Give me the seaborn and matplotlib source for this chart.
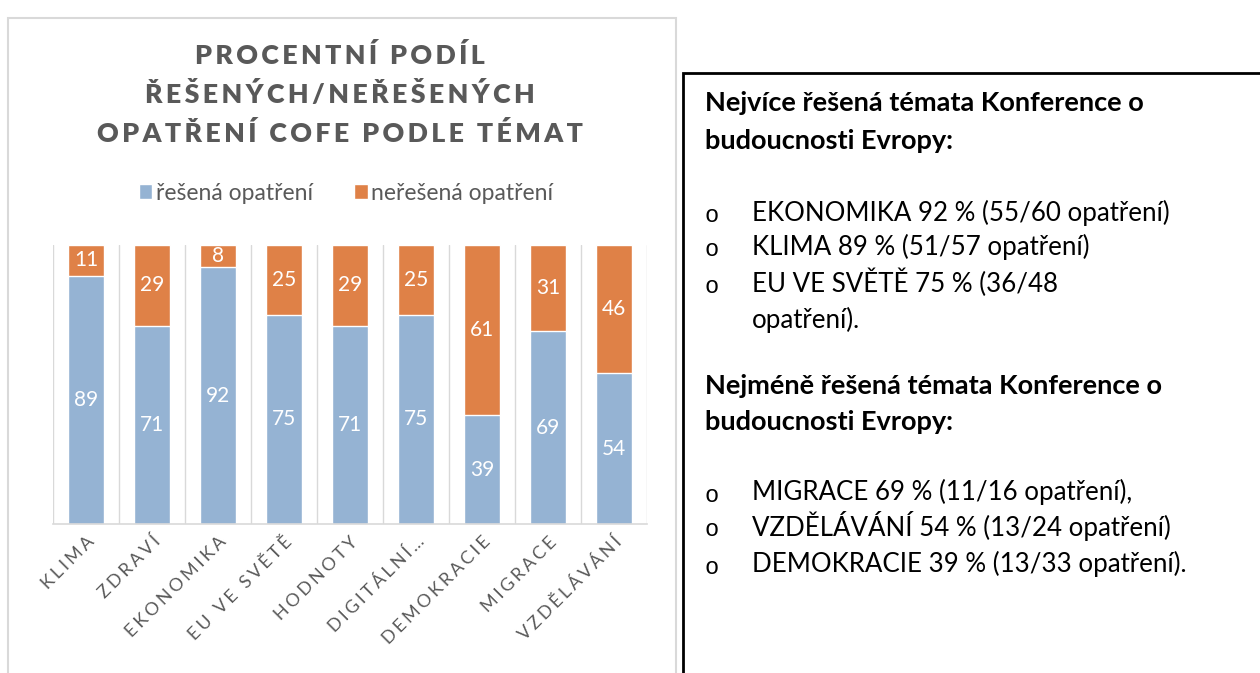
import numpy as np
import pandas as pd
import seaborn as sns
import matplotlib.pyplot as plt
from matplotlib.patches import Rectangle, Patch

# data
temata = ["KLIMA", "ZDRAVÍ", "EKONOMIKA", "EU VE SVĚTĚ", "HODNOTY",
          "DIGITÁLNÍ…", "DEMOKRACIE", "MIGRACE", "VZDĚLÁVÁNÍ"]
resena = [89, 71, 92, 75, 71, 75, 39, 69, 54]
neresena = [11, 29, 8, 25, 29, 25, 61, 31, 46]

title_lines = ["PROCENTNÍ PODÍL", "ŘEŠENÝCH/NEŘEŠENÝCH", "OPATŘENÍ COFE PODLE TÉMAT"]
legend_labels = ["řešená opatření", "neřešená opatření"]

heading_top = ["Nejvíce řešená témata Konference o", "budoucnosti Evropy:"]
items_top = ["EKONOMIKA 92 % (55/60 opatření)", "KLIMA 89 % (51/57 opatření)",
             "EU VE SVĚTĚ 75 % (36/48", "opatření)."]
heading_low = ["Nejméně řešená témata Konference o", "budoucnosti Evropy:"]
items_low = ["MIGRACE 69 % (11/16 opatření),", "VZDĚLÁVÁNÍ 54 % (13/24 opatření)",
             "DEMOKRACIE 39 % (13/33 opatření)."]

BLUE = "#95B3D3"
ORANGE = "#DF8147"
GREY = "#595959"
FAM = ['Lato', 'DejaVu Sans']

sns.set_theme(style="white")
plt.rcParams['font.family'] = FAM


def spaced(s, sp="\u2009"):
    # imitate Excel's letter spacing with narrow spaces
    out = sp.join(s)
    return out.replace(sp + " " + sp, sp + " " + sp)


df = pd.DataFrame({"tema": temata, "resena": resena, "neresena": neresena})
df["celkem"] = df["resena"] + df["neresena"]

W, H = 1260, 673
fig = plt.figure(figsize=(W / 100, H / 100), dpi=100)
ax = fig.add_axes([53 / W, 1 - 524 / H, (647 - 53) / W, (524 - 245) / H])

sns.barplot(data=df, x="tema", y="celkem", color=ORANGE, width=0.545,
            saturation=1, ax=ax)
sns.barplot(data=df, x="tema", y="resena", color=BLUE, width=0.545,
            saturation=1, ax=ax)

# labels: blue segment = resena, orange segment = neresena
orange_bars = ax.containers[0]
blue_bars = ax.containers[1]
ax.bar_label(blue_bars, labels=[str(v) for v in resena], label_type="center",
             color="white", fontsize=15)
for bar, v, r in zip(orange_bars, neresena, resena):
    ax.text(bar.get_x() + bar.get_width() / 2, r + v / 2, str(v),
            ha="center", va="center", color="white", fontsize=15)

ax.set_ylim(0, 100)
ax.set_xlim(-0.5, len(temata) - 0.5)
ax.set_xlabel("")
ax.set_ylabel("")
ax.set_yticks([])
ax.set_xticks(np.arange(-0.5, len(temata)), minor=True)
ax.grid(True, which="minor", axis="x", color="#D9D9D9", lw=1)
ax.grid(False, which="major")
ax.set_axisbelow(True)
for s in ["top", "left", "right"]:
    ax.spines[s].set_visible(False)
ax.spines["bottom"].set_color("#D9D9D9")
ax.spines["bottom"].set_linewidth(1.2)
ax.tick_params(axis="x", which="both", length=0, pad=7)
ax.set_xticks(range(len(temata)))
ax.set_xticklabels([spaced(t, "\u2006") for t in temata],
                   rotation=45, ha="right", rotation_mode="anchor",
                   color=GREY, fontsize=13)
for lab in ax.get_xticklabels():
    lab.set_family(FAM)

# chart title
for i, line in enumerate(title_lines):
    fig.text(340 / W, 1 - (55 + i * 39) / H, spaced(line), ha="center",
             va="center", color=GREY, fontsize=19.3, fontweight="heavy",
             family=FAM)

handles = [Patch(facecolor=BLUE), Patch(facecolor=ORANGE)]
fig.legend(handles, legend_labels, loc="center", bbox_to_anchor=(346 / W, 1 - 193 / H),
           ncol=2, frameon=False, fontsize=16.5, handlelength=0.6, handleheight=0.6,
           handletextpad=0.15, columnspacing=1.8, labelcolor=GREY)

# frames
fig.add_artist(Rectangle((8 / W, -0.05), (676 - 8) / W, 1.05 - 18 / H,
                         transform=fig.transFigure, fill=False,
                         edgecolor="#D9D9D9", lw=1.5))
fig.add_artist(Rectangle((683 / W, -0.05), 0.5, 1.05 - 73 / H,
                         transform=fig.transFigure, fill=False,
                         edgecolor="black", lw=2, clip_on=False))


# text box contents
def put(y, s, x=752, bold=False):
    fig.text(x / W, 1 - y / H, s, ha="left", va="center", color="black",
             fontsize=19.5 if bold else 18.6, fontweight="bold" if bold else "normal")


def bullet(y):
    fig.text(705 / W, 1 - (y + 3) / H, "o", ha="left", va="center", color="black",
             fontsize=17, family="Liberation Mono")


for y, s in zip([103, 141], heading_top):
    put(y, s, x=705, bold=True)
for j, (y, s) in enumerate(zip([213, 247, 283, 320], items_top)):
    if j < 3:
        bullet(y)
    put(y, s)
for y, s in zip([386, 422], heading_low):
    put(y, s, x=705, bold=True)
for y, s in zip([492, 526, 564], items_low):
    bullet(y)
    put(y, s)

fig.savefig("out.png", dpi=100)
